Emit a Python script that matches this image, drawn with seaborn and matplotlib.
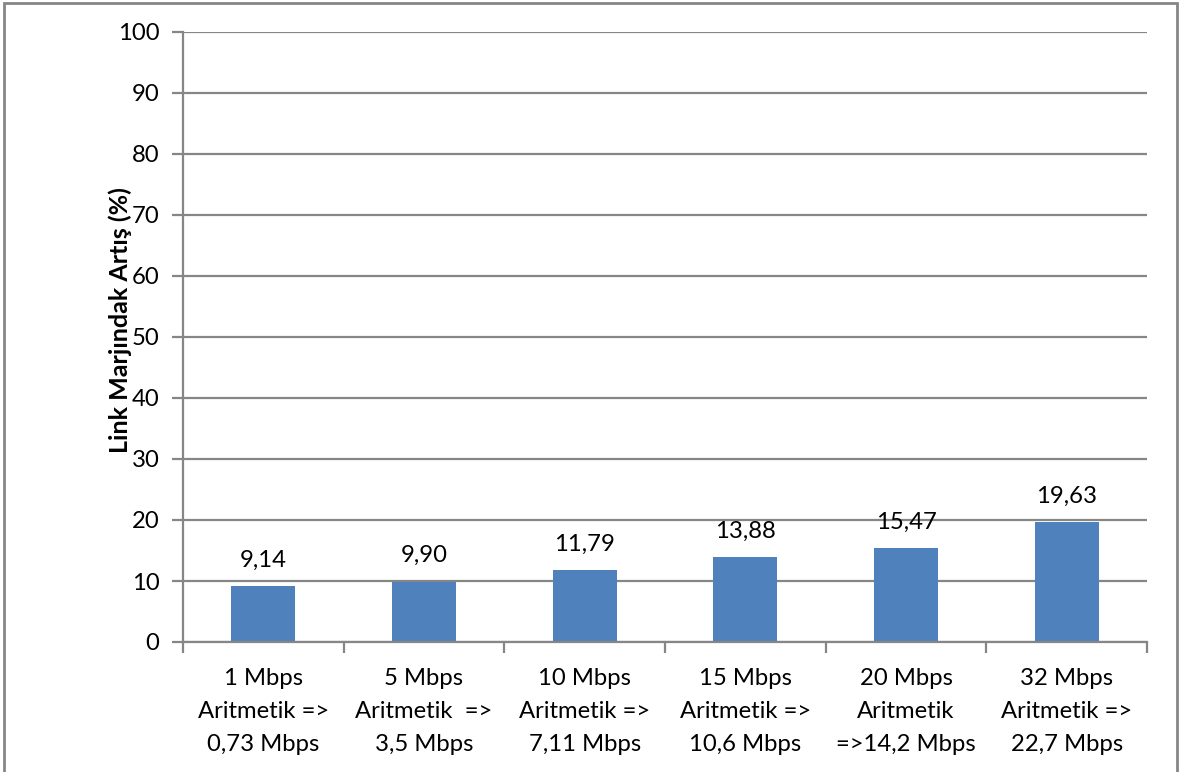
import matplotlib
matplotlib.use("Agg")
import matplotlib.pyplot as plt
import seaborn as sns
from matplotlib.patches import Rectangle

# Data
categories = [
    "1 Mbps\nAritmetik =>\n0,73 Mbps",
    "5 Mbps\nAritmetik  =>\n3,5 Mbps",
    "10 Mbps\nAritmetik =>\n7,11 Mbps",
    "15 Mbps\nAritmetik =>\n10,6 Mbps",
    "20 Mbps\nAritmetik\n=>14,2 Mbps",
    "32 Mbps\nAritmetik =>\n22,7 Mbps",
]
values = [9.14, 9.90, 11.79, 13.88, 15.47, 19.63]
y_ticks = [0, 10, 20, 30, 40, 50, 60, 70, 80, 90, 100]
y_label = "Link Marjındak Artış (%)"

BAR = "#4F81BD"
GRID = "#868686"
FS = 17.2

sns.set_theme(style="white")
plt.rcParams["font.family"] = ["Lato", "DejaVu Sans"]

W, H = 1185, 772
fig = plt.figure(figsize=(W / 100, H / 100), dpi=100)
ax = fig.add_axes([183 / W, 1 - 642 / H, (1147 - 183) / W, (642 - 32) / H])

sns.barplot(x=list(range(len(values))), y=values, color=BAR, width=0.4,
            saturation=1, ax=ax, edgecolor="none")

ax.set_xlim(-0.5, len(values) - 0.5)
ax.set_ylim(0, 100)
ax.set_yticks(y_ticks)
ax.set_yticklabels([str(t) for t in y_ticks], fontsize=FS, color="black")
ax.yaxis.grid(True, color=GRID, linewidth=1.6)
ax.set_axisbelow(True)

# Category labels centred, ticks on category boundaries
ax.set_xticks(range(len(values)))
ax.set_xticklabels(categories, fontsize=FS, color="black", linespacing=1.68)
ax.tick_params(axis="x", which="major", length=0, pad=19)
ax.set_xticks([i - 0.5 for i in range(len(values) + 1)], minor=True)
ax.tick_params(axis="x", which="minor", length=8, width=1.6, color=GRID,
               direction="out", bottom=True)
ax.tick_params(axis="y", length=8, width=1.6, color=GRID, direction="out",
               left=True, pad=9)

for side in ("top", "right"):
    ax.spines[side].set_visible(False)
for side in ("left", "bottom"):
    ax.spines[side].set_color(GRID)
    ax.spines[side].set_linewidth(1.6)

ax.set_xlabel("")
ax.set_ylabel(y_label, fontsize=18, fontweight="bold", color="black")
ax.yaxis.set_label_coords((132 - 183) / 964, (642 - 320) / 610)

# Value labels above bars
for i, v in enumerate(values):
    ax.annotate(f"{v:.2f}".replace(".", ","), xy=(i, v), xytext=(0, 11),
                textcoords="offset points", ha="center", va="bottom",
                fontsize=FS, color="black")

# Chart frame
fig.patches.append(Rectangle((4 / W, -0.01), (1177 - 4) / W, 1 - 2.5 / H + 0.01,
                             transform=fig.transFigure, fill=False,
                             edgecolor=GRID, linewidth=2))

fig.savefig("out.png", dpi=100, facecolor="white")
